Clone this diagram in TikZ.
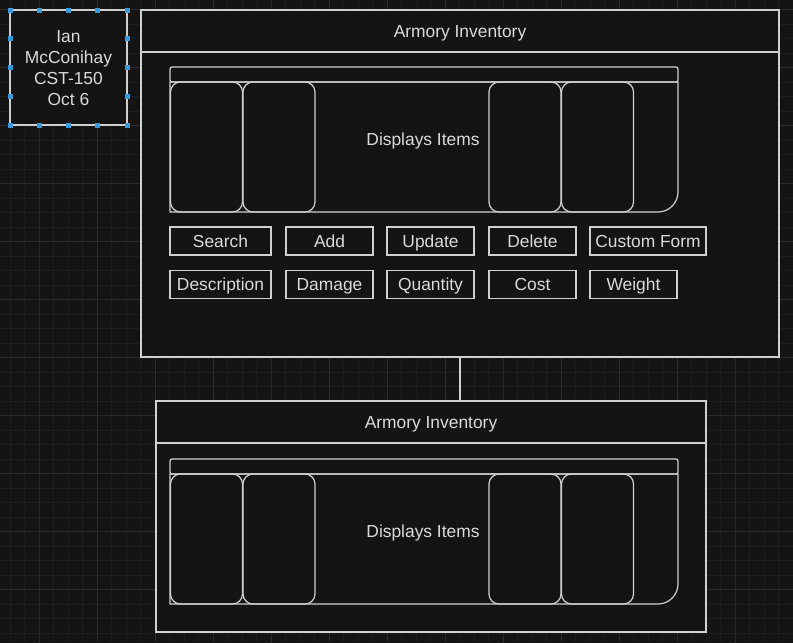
\documentclass[tikz,border=0pt]{standalone}
\usepackage{fontspec}
\setmainfont{Liberation Sans}
\definecolor{bgc}{HTML}{141414}
\definecolor{minorc}{HTML}{1E1E1E}
\definecolor{majorc}{HTML}{2A2A2A}
\definecolor{linec}{HTML}{D0D0D0}
\definecolor{txtc}{HTML}{DADADA}
\definecolor{hblue}{HTML}{3A9AD9}
\tikzset{
  box/.style={draw=linec, line width=1.5pt, fill=bgc, inner sep=2pt, text=txtc,
    font=\fontsize{17.4}{21}\selectfont, text height=14pt, text depth=1.5pt},
  btn/.style={box, minimum width=87pt, minimum height=28pt},
  card/.style={draw=linec, line width=1.2pt, rounded corners=10pt, minimum width=72pt},
  label/.style={text=txtc, font=\fontsize{17.4}{21}\selectfont, inner sep=0pt,
    text height=14pt, text depth=1.5pt},
}
\begin{document}
\begin{tikzpicture}[x=1pt, y=-1pt]
  \fill[bgc] (0,0) rectangle (793,643);
  \useasboundingbox (0,0) rectangle (793,643);
  % grid
  \foreach \g in {-4.5,10,...,800} \draw[minorc, line width=0.8pt] (\g,0) -- (\g,643);
  \foreach \g in {-4.7,9.8,...,650} \draw[minorc, line width=0.8pt] (0,\g) -- (793,\g);
  \foreach \g in {39,97,...,800} \draw[majorc, line width=0.8pt] (\g,0) -- (\g,643);
  \foreach \g in {9.8,67.8,...,650} \draw[majorc, line width=0.8pt] (0,\g) -- (793,\g);

  % author note
  \node[draw=linec, line width=1.2pt, fill=bgc, minimum width=117pt, minimum height=115pt]
    (note) at (68.5,67.5) {};
  \node[label, text height=, text depth=, align=center] (author) at (68.5,68.5)
    {Ian\\McConihay\\CST-150\\Oct 6};
  \foreach \hx in {10,39.25,68.5,97.75,127} {
    \fill[hblue] (\hx-2.5,7.5) rectangle ++(5,5);
    \fill[hblue] (\hx-2.5,122.5) rectangle ++(5,5);
  }
  \foreach \hy in {38.75,67.5,96.25} {
    \fill[hblue] (7.5,\hy-2.5) rectangle ++(5,5);
    \fill[hblue] (124.5,\hy-2.5) rectangle ++(5,5);
  }

  % top form
  \node[box, minimum width=638pt, minimum height=305pt] (inv1) at (460,204.5) {};
  \node[box, minimum width=638pt, minimum height=42pt] (head1) at (460,31) {Armory Inventory};
  % bottom form
  \node[box, minimum width=550pt, minimum height=189pt] (inv2) at (431,537.5) {};
  \node[box, minimum width=550pt, minimum height=42pt] (head2) at (431,422) {Armory Inventory};
  \draw[linec, line width=1.5pt] (inv1.south) -- (inv1.south |- head2.north);

  % item lists
  \foreach \top/\nm in {67/1,459/2} {
    \node[draw=linec, line width=1.2pt, rounded corners=2pt, minimum width=508pt,
      minimum height=15pt, inner sep=0pt] (bar\nm) at (424,\top+7.5) {};
    \draw[linec, line width=1.2pt] (170,\top+15) -- (678,\top+15) -- (678,\top+125)
      arc[start angle=0, end angle=90, radius=20] -- (170,\top+145) -- cycle;
    \foreach \cx/\cn in {206.5/a,279/b,525/c,597.5/d}
      \node[card, minimum height=130pt] (card\nm\cn) at (\cx,\top+80) {};
    \node[label] (list\nm) at (423,\top+72) {Displays Items};
  }

  % buttons
  \node[btn, minimum width=101pt] (search) at (220.5,241) {Search};
  \node[btn] (add) at (329.5,241) {Add};
  \node[btn] (update) at (430.5,241) {Update};
  \node[btn] (delete) at (532.5,241) {Delete};
  \node[btn, minimum width=116pt] (custom) at (648,241) {Custom Form};
  \node[btn, minimum width=101pt] (desc) at (220.5,284.5) {Description};
  \node[btn] (damage) at (329.5,284.5) {Damage};
  \node[btn] (quantity) at (430.5,284.5) {Quantity};
  \node[btn] (cost) at (532.5,284.5) {Cost};
  \node[btn] (weight) at (633.5,284.5) {Weight};
\end{tikzpicture}
\end{document}
